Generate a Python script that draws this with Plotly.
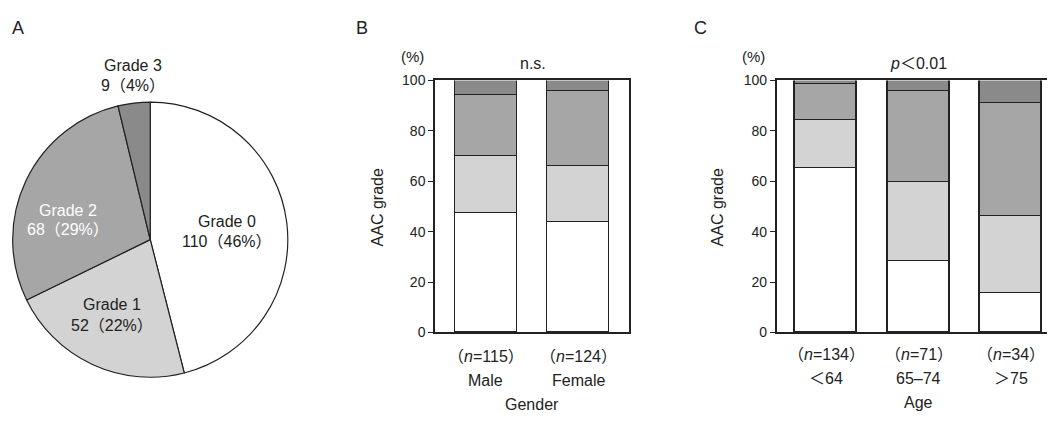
import plotly.graph_objects as go

W, H = 1055, 421
OFF = 8  # page body margin offset

# ---- data ----
pie_labels = ["Grade 0", "Grade 1", "Grade 2", "Grade 3"]
pie_counts = [110, 52, 68, 9]
pie_pct = [46, 22, 29, 4]

gender_cats = ["Male", "Female"]
gender_n = [115, 124]
gender_g0 = [47.2, 43.8]
gender_g1 = [22.8, 22.1]
gender_g2 = [24.2, 29.6]
gender_g3 = [5.8, 4.5]

age_cats = ["＜64", "65–74", "＞75"]
age_n = [134, 71, 34]
age_g0 = [65.0, 28.0, 15.6]
age_g1 = [19.1, 31.6, 30.3]
age_g2 = [14.2, 35.9, 44.9]
age_g3 = [1.7, 4.5, 9.2]

y_ticks = [0, 20, 40, 60, 80, 100]

grade_colors = ["#ffffff", "#d3d3d3", "#a6a6a6", "#8a8a8a"]
FONT = "Liberation Sans, Arial, Noto Sans CJK JP, sans-serif"


def px(x):
    return (x - OFF) / W


def py(y):
    return 1 - (y - OFF) / H


fig = go.Figure()

# ---- Panel A: pie ----
fig.add_trace(go.Pie(
    labels=pie_labels, values=pie_counts, sort=False, direction="clockwise",
    rotation=0, textinfo="none", hoverinfo="label+value",
    marker=dict(colors=grade_colors, line=dict(color="#222222", width=1.2)),
    domain=dict(x=[0, px(292.5)], y=[py(383.5), py(97.5)]),
    showlegend=False,
))

# ---- Panel B and C: stacked bars ----
for cats, series, xa, ya in [
    (gender_cats, [gender_g0, gender_g1, gender_g2, gender_g3], "x", "y"),
    (age_cats, [age_g0, age_g1, age_g2, age_g3], "x2", "y2"),
]:
    for i, vals in enumerate(series):
        fig.add_trace(go.Bar(
            x=cats, y=vals, xaxis=xa, yaxis=ya, width=0.67,
            marker=dict(color=grade_colors[i], line=dict(color="#222222", width=1.3)),
            name=f"Grade {i}", showlegend=False,
        ))

axis_common_y = dict(
    range=[0, 100], tickvals=y_ticks, ticks="outside", ticklen=5, tickwidth=1.3,
    tickcolor="#222222", showline=True, linecolor="#222222", linewidth=1.5,
    showgrid=False, zeroline=False, tickfont=dict(size=14, color="#222222", family=FONT),
    fixedrange=True,
)
axis_common_x = dict(
    showline=True, linecolor="#222222", linewidth=1.5, mirror=True, ticks="",
    showticklabels=False, showgrid=False, zeroline=False, fixedrange=True,
)

# panel C: axis from x=776.7 to page edge 1055, bar centres every 92.5 px starting at 826
c_left, c_right = 776.7, 1055
c_unit, c_first = 92.5, 826

fig.update_layout(
    width=W, height=H, autosize=False,
    margin=dict(l=0, r=0, t=0, b=0),
    paper_bgcolor="white", plot_bgcolor="white",
    barmode="stack", bargap=0,
    font=dict(family=FONT, color="#222222"),
    xaxis=dict(domain=[px(435), px(629)], range=[-0.554, 1.554], anchor="y", **axis_common_x),
    yaxis=dict(domain=[py(337), py(75)], anchor="x", mirror=True, **axis_common_y),
    xaxis2=dict(domain=[px(c_left), px(c_right)],
                range=[(c_left - c_first) / c_unit, (c_right - c_first) / c_unit],
                anchor="y2", **axis_common_x),
    yaxis2=dict(domain=[py(337), py(75)], anchor="x2", mirror=False, **axis_common_y),
)

ann = []


def text(x, y, s, size=16, color="#222222", xanchor="center", **kw):
    ann.append(dict(x=px(x), y=py(y), xref="paper", yref="paper", text=s,
                    showarrow=False, xanchor=xanchor, yanchor="middle",
                    font=dict(size=size, color=color, family=FONT), **kw))


# panel letters
text(18, 20, "A", size=18)
text(362, 20, "B", size=18)
text(700, 20, "C", size=18)

# pie labels
pie_pos = [(227, 222, 242, "#222222"), (112, 308, 330, "#222222"),
           (68, 210, 230, "#ffffff"), (133, 59, 80, "#222222")]
for (lx, y1, y2, col), lab, cnt, pct in zip(pie_pos, pie_labels, pie_counts, pie_pct):
    text(lx, y1, lab, size=16, color=col)
    text(lx, y2, f"{cnt}（{pct}%）", size=16, color=col)

# panel B texts
text(412, 50, "(%)", size=15)
text(533, 57, "n.s.", size=16)
text(377, 207, "AAC grade", size=16, textangle=-90)
text(532, 412, "Gender", size=16)
# panel C texts
text(753, 50, "(%)", size=15)
text(918, 57, "<i>p</i>＜0.01", size=16)
text(717, 207, "AAC grade", size=16, textangle=-90)
text(918, 410, "Age", size=16)

for a in ann:
    fig.add_annotation(**a)

# category labels via axis coordinates
for cats, ns, xa, y1, y2 in [(gender_cats, gender_n, "x", 362, 387),
                             (age_cats, age_n, "x2", 360, 385)]:
    for c, n in zip(cats, ns):
        fig.add_annotation(x=c, y=py(y1), xref=xa, yref="paper",
                           text=f"（<i>n</i>={n}）", showarrow=False, yanchor="middle",
                           font=dict(size=16, color="#222222", family=FONT))
        fig.add_annotation(x=c, y=py(y2), xref=xa, yref="paper",
                           text=c, showarrow=False, yanchor="middle",
                           font=dict(size=16, color="#222222", family=FONT))

fig.write_html("out.html")
